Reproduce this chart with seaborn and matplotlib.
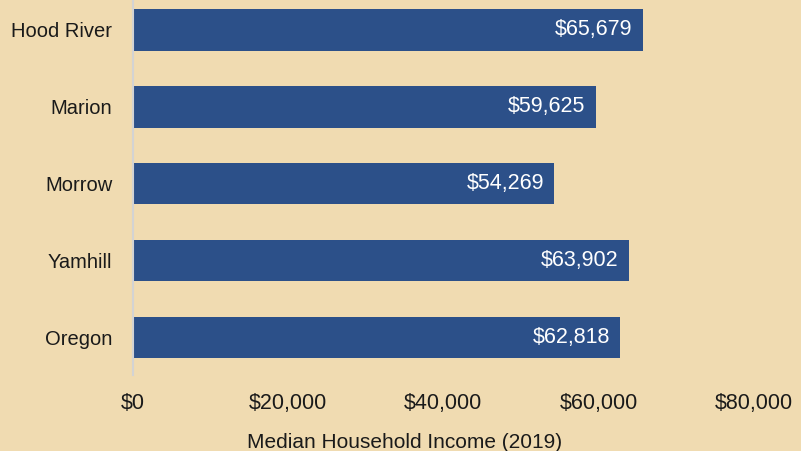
import matplotlib
matplotlib.use("Agg")
import matplotlib.pyplot as plt
import seaborn as sns
import pandas as pd
from matplotlib.ticker import FuncFormatter

counties = ["Hood River", "Marion", "Morrow", "Yamhill", "Oregon"]
income = [65679, 59625, 54269, 63902, 62818]
x_ticks = [0, 20000, 40000, 60000, 80000]

bg = "#F0DBB1"
bar_color = "#2C5089"

sns.set_theme(style="white")
plt.rcParams["font.family"] = ["Liberation Sans", "DejaVu Sans"]

df = pd.DataFrame({"County": counties, "Income": income})

fig = plt.figure(figsize=(8.01, 4.51), dpi=100, facecolor=bg)
ax = fig.add_axes([0.166, 0.1685, 0.775, 0.8315])
ax.set_facecolor(bg)

sns.barplot(data=df, x="Income", y="County", color=bar_color, saturation=1,
            width=0.54, linewidth=0, edgecolor="none", ax=ax)

for i, v in enumerate(income):
    ax.text(v - 1300, i, f"${v:,}", color="white", fontsize=15.5,
            ha="right", va="center")

ax.set_xlim(0, 80000)
ax.set_ylim(4.49, -0.39)
ax.set_xticks(x_ticks)
ax.xaxis.set_major_formatter(FuncFormatter(lambda v, p: f"${v:,.0f}"))
ax.tick_params(axis="x", labelsize=15.5, pad=13, length=0, colors="#1a1a1a")
ax.tick_params(axis="y", labelsize=14.5, pad=15, length=0, colors="#1a1a1a")
ax.set_xlabel("Median Household Income (2019)", fontsize=15, color="#1a1a1a")
ax.xaxis.set_label_coords(0.438, -0.155)
ax.set_ylabel("")

for s in ["top", "right", "bottom"]:
    ax.spines[s].set_visible(False)
ax.spines["left"].set_color("#D3D3D3")
ax.spines["left"].set_linewidth(1.5)

fig.savefig("out.png", dpi=100, facecolor=bg)
